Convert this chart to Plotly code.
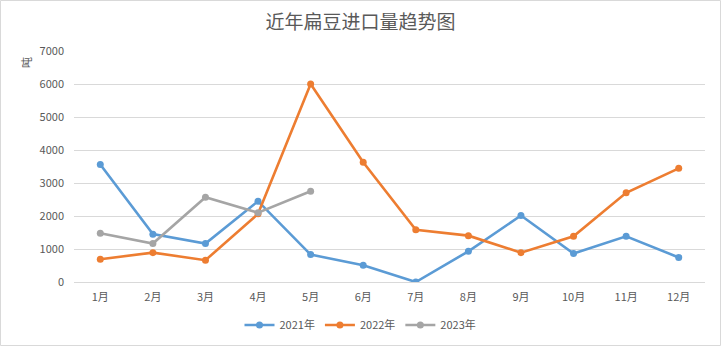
import plotly.graph_objects as go

months = ["1月", "2月", "3月", "4月", "5月", "6月", "7月", "8月", "9月", "10月", "11月", "12月"]
y2021 = [3560, 1450, 1165, 2450, 830, 505, 0, 930, 2015, 865, 1385, 745]
y2022 = [690, 890, 660, 2065, 6000, 3630, 1585, 1405, 890, 1385, 2705, 3445]
y2023 = [1475, 1165, 2570, 2100, 2750]
series_names = ["2021年", "2022年", "2023年"]
colors = ["#5B9BD5", "#ED7D31", "#A5A5A5"]
yticks = [0, 1000, 2000, 3000, 4000, 5000, 6000, 7000]

font_family = "Noto Sans CJK SC, Noto Sans, sans-serif"

fig = go.Figure()
for name, vals, c in zip(series_names, [y2021, y2022, y2023], colors):
    fig.add_trace(go.Scatter(
        x=months[:len(vals)], y=vals, name=name, mode="lines+markers",
        line=dict(color=c, width=2.6), marker=dict(color=c, size=7),
    ))

fig.update_layout(
    width=721, height=346,
    margin=dict(l=74, r=16, t=51, b=64, autoexpand=False),
    paper_bgcolor="white", plot_bgcolor="white",
    font=dict(family=font_family, color="#595959", size=11),
    title=dict(text="近年扁豆进口量趋势图", x=0.5, xanchor="center", y=1 - 22 / 346, yanchor="middle",
               font=dict(size=19, color="#595959", family=font_family)),
    showlegend=True,
    legend=dict(orientation="h", xref="container", x=0.5, xanchor="center",
                y=(282 - 325) / 231, yanchor="middle",
                font=dict(size=11, color="#595959"), itemwidth=30, tracegroupgap=0),
    xaxis=dict(type="category", categoryorder="array", categoryarray=months, automargin=False,
               range=[-0.5, 11.5], showgrid=False, showline=False, ticks="",
               ticklabelstandoff=7,
               tickfont=dict(size=11, color="#595959")),
    yaxis=dict(range=[0, 7000], tickvals=yticks, showgrid=True, gridcolor="#D9D9D9", gridwidth=1,
               automargin=False, ticklabelstandoff=9,
               zeroline=True, zerolinecolor="#D9D9D9", zerolinewidth=1, showline=False, ticks="",
               ticklen=0, tickfont=dict(size=11, color="#595959")),
    annotations=[dict(text="吨", xref="paper", yref="paper", x=(26 - 74) / 631, y=(282 - 63) / 231,
                      showarrow=False, textangle=-90, font=dict(size=11, color="#595959"),
                      xanchor="center", yanchor="middle")],
    shapes=[dict(type="rect", xref="paper", yref="paper",
                 x0=(0.5 - 74) / 631, x1=(720.5 - 74) / 631,
                 y0=(282 - 345.5) / 231, y1=(282 - 0.5) / 231,
                 line=dict(color="#D9D9D9", width=1), fillcolor="rgba(0,0,0,0)", layer="below")],
)

fig.write_html("out.html")
